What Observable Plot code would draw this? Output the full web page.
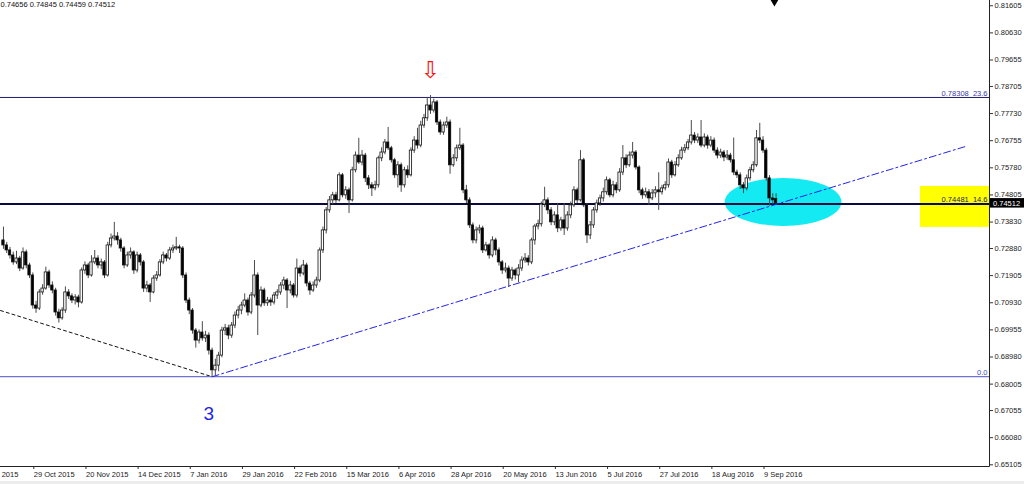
<!DOCTYPE html>
<html><head><meta charset="utf-8">
<script src="https://cdn.jsdelivr.net/npm/d3@7"></script>
<script src="https://cdn.jsdelivr.net/npm/@observablehq/plot@0.6"></script>
<style>
html,body{margin:0;padding:0;background:#fff;}
#chart svg{display:block;}
</style></head><body><div id="chart"></div>
<script>
// Daily candles, first bar ~15 Oct 2015, last bar ~15 Sep 2016 (bar index 0..237)
const opens = [
.7317,.7299,.7281,.7263,.7238,.7252,.7216,.7274,.7227,.7191,
.7083,.7072,.7130,.7144,.7202,.7155,.7137,.7058,.7037,.7065,
.7130,.7116,.7101,.7112,.7094,.7209,.7227,.7191,.7238,.7252,
.7227,.7238,.7191,.7299,.7324,.7331,.7317,.7288,.7227,.7263,
.7274,.7209,.7263,.7238,.7144,.7155,.7130,.7180,.7191,.7238,
.7263,.7252,.7281,.7288,.7292,.7288,.7191,.7101,.7065,.6993,
.6957,.6986,.6965,.6975,.6921,.6850,.6867,.6903,.6993,.7001,
.6975,.7011,.7047,.7065,.7083,.7101,.7058,.7119,.7191,.7083,
.7137,.7091,.7101,.7094,.7119,.7130,.7155,.7173,.7137,.7155,
.7119,.7216,.7198,.7227,.7162,.7137,.7155,.7173,.7281,.7353,
.7425,.7461,.7479,.7461,.7551,.7479,.7497,.7461,.7569,.7622,
.7597,.7622,.7540,.7515,.7504,.7515,.7612,.7633,.7669,.7648,
.7605,.7551,.7587,.7515,.7569,.7551,.7640,.7676,.7658,.7730,
.7756,.7802,.7784,.7813,.7741,.7705,.7730,.7741,.7587,.7612,
.7648,.7658,.7497,.7461,.7371,.7317,.7353,.7360,.7281,.7299,
.7263,.7317,.7281,.7238,.7209,.7216,.7180,.7209,.7191,.7216,
.7245,.7252,.7238,.7317,.7367,.7375,.7446,.7461,.7425,.7382,
.7407,.7360,.7389,.7360,.7407,.7443,.7497,.7461,.7605,.7443,
.7335,.7371,.7425,.7450,.7468,.7490,.7533,.7479,.7515,.7497,
.7561,.7612,.7587,.7622,.7633,.7579,.7497,.7479,.7490,.7468,
.7486,.7497,.7490,.7504,.7515,.7597,.7551,.7587,.7612,.7640,
.7648,.7669,.7694,.7676,.7687,.7658,.7687,.7658,.7676,.7640,
.7622,.7633,.7615,.7622,.7605,.7561,.7551,.7515,.7504,.7540,
.7569,.7587,.7684,.7676,.7640,.7540,.7468,.74656];
const highs = [
.7365,.7310,.7292,.7275,.7278,.7260,.7290,.7282,.7235,.7200,
.7098,.7140,.7158,.7221,.7210,.7168,.7145,.7070,.7075,.7150,
.7140,.7125,.7122,.7120,.7218,.7240,.7235,.7262,.7281,.7262,
.7250,.7245,.7310,.7340,.7382,.7345,.7325,.7295,.7275,.7290,
.7280,.7275,.7270,.7245,.7170,.7162,.7190,.7205,.7248,.7275,
.7270,.7292,.7300,.7328,.7300,.7295,.7200,.7110,.7072,.7000,
.6995,.7025,.6990,.6985,.6930,.6890,.6915,.7005,.7015,.7012,
.7022,.7060,.7080,.7095,.7125,.7110,.7130,.7245,.7200,.7150,
.7145,.7112,.7110,.7130,.7140,.7165,.7185,.7180,.7170,.7162,
.7250,.7225,.7245,.7235,.7170,.7168,.7185,.7290,.7365,.7435,
.7475,.7490,.7490,.7560,.7558,.7510,.7505,.7580,.7635,.7684,
.7640,.7630,.7550,.7525,.7530,.7620,.7650,.7680,.7723,.7655,
.7612,.7600,.7595,.7580,.7585,.7650,.7690,.7720,.7745,.7770,
.7831,.7838,.7825,.7820,.7750,.7742,.7760,.7750,.7625,.7660,
.7720,.7665,.7515,.7470,.7380,.7365,.7372,.7368,.7310,.7305,
.7330,.7325,.7290,.7245,.7235,.7225,.7220,.7215,.7230,.7258,
.7270,.7262,.7325,.7375,.7390,.7455,.7508,.7470,.7435,.7420,
.7450,.7400,.7450,.7420,.7455,.7510,.7505,.7640,.7612,.7450,
.7385,.7435,.7462,.7480,.7505,.7545,.7540,.7530,.7525,.7575,
.7658,.7625,.7635,.7669,.7640,.7585,.7505,.7505,.7500,.7500,
.7510,.7560,.7515,.7528,.7610,.7605,.7600,.7625,.7652,.7662,
.7680,.7748,.7705,.7700,.7748,.7700,.7695,.7690,.7685,.7650,
.7645,.7640,.7640,.7630,.7685,.7570,.7560,.7525,.7552,.7580,
.7600,.7712,.7738,.7690,.7648,.7550,.7485,.74845];
const lows = [
.7285,.7270,.7250,.7228,.7230,.7205,.7210,.7215,.7180,.7070,
.7055,.7065,.7120,.7138,.7145,.7125,.7045,.7020,.7030,.7055,
.7105,.7090,.7085,.7075,.7088,.7195,.7180,.7185,.7230,.7215,
.7212,.7180,.7185,.7290,.7315,.7300,.7275,.7215,.7220,.7250,
.7195,.7200,.7225,.7130,.7130,.7094,.7125,.7170,.7185,.7230,
.7240,.7245,.7270,.7280,.7270,.7180,.7090,.7050,.6980,.6930,
.6945,.6955,.6950,.6905,.6827,.6830,.6845,.6895,.6975,.6960,
.6965,.7000,.7035,.7050,.7075,.7045,.7050,.7110,.6975,.7075,
.7080,.7080,.7080,.7085,.7105,.7120,.7140,.7072,.7125,.7110,
.7110,.7185,.7190,.7150,.7120,.7130,.7145,.7165,.7270,.7340,
.7415,.7445,.7450,.7455,.7470,.7465,.7414,.7455,.7560,.7590,
.7585,.7525,.7500,.7475,.7495,.7505,.7600,.7625,.7640,.7595,
.7540,.7505,.7490,.7505,.7540,.7545,.7630,.7645,.7650,.7720,
.7745,.7770,.7775,.7730,.7695,.7695,.7720,.7555,.7580,.7600,
.7640,.7485,.7450,.7360,.7305,.7305,.7340,.7270,.7275,.7250,
.7255,.7262,.7225,.7195,.7200,.7148,.7170,.7175,.7165,.7205,
.7235,.7225,.7230,.7300,.7355,.7365,.7435,.7410,.7370,.7370,
.7345,.7350,.7335,.7350,.7395,.7435,.7450,.7455,.7435,.7306,
.7320,.7360,.7415,.7440,.7455,.7480,.7470,.7470,.7485,.7490,
.7550,.7575,.7580,.7610,.7570,.7485,.7465,.7470,.7443,.7460,
.7470,.7425,.7480,.7495,.7505,.7540,.7545,.7580,.7605,.7630,
.7640,.7660,.7665,.7665,.7650,.7650,.7645,.7650,.7630,.7610,
.7612,.7600,.7605,.7595,.7550,.7540,.7500,.7485,.7495,.7530,
.7560,.7580,.7665,.7630,.7530,.7440,.7446,.74459];
const closes = [
.7299,.7281,.7263,.7238,.7252,.7216,.7274,.7227,.7191,.7083,
.7072,.7130,.7144,.7202,.7155,.7137,.7058,.7037,.7065,.7130,
.7116,.7101,.7112,.7094,.7209,.7227,.7191,.7238,.7252,.7227,
.7238,.7191,.7299,.7324,.7331,.7317,.7288,.7227,.7263,.7274,
.7209,.7263,.7238,.7144,.7155,.7130,.7180,.7191,.7238,.7263,
.7252,.7281,.7288,.7292,.7288,.7191,.7101,.7065,.6993,.6957,
.6986,.6965,.6975,.6921,.6850,.6867,.6903,.6993,.7001,.6975,
.7011,.7047,.7065,.7083,.7101,.7058,.7119,.7191,.7083,.7137,
.7091,.7101,.7094,.7119,.7130,.7155,.7173,.7137,.7155,.7119,
.7216,.7198,.7227,.7162,.7137,.7155,.7173,.7281,.7353,.7425,
.7461,.7479,.7461,.7551,.7479,.7497,.7461,.7569,.7622,.7597,
.7622,.7540,.7515,.7504,.7515,.7612,.7633,.7669,.7648,.7605,
.7551,.7587,.7515,.7569,.7551,.7640,.7676,.7658,.7730,.7756,
.7802,.7784,.7813,.7741,.7705,.7730,.7741,.7587,.7612,.7648,
.7658,.7497,.7461,.7371,.7317,.7353,.7360,.7281,.7299,.7263,
.7317,.7281,.7238,.7209,.7216,.7180,.7209,.7191,.7216,.7245,
.7252,.7238,.7317,.7367,.7375,.7446,.7461,.7425,.7382,.7407,
.7360,.7389,.7360,.7407,.7443,.7497,.7461,.7605,.7443,.7335,
.7371,.7425,.7450,.7468,.7490,.7533,.7479,.7515,.7497,.7561,
.7612,.7587,.7622,.7633,.7579,.7497,.7479,.7490,.7468,.7486,
.7497,.7490,.7504,.7515,.7597,.7551,.7587,.7612,.7640,.7648,
.7669,.7694,.7676,.7687,.7658,.7687,.7658,.7676,.7640,.7622,
.7633,.7615,.7622,.7605,.7561,.7551,.7515,.7504,.7540,.7569,
.7587,.7684,.7676,.7640,.7540,.7468,.7461,.74512];

const headerText = "0.74656 0.74845 0.74459 0.74512";
const yTicks = [0.81605,0.80630,0.79655,0.78705,0.77730,0.76755,0.75780,0.74805,0.73830,
                0.72880,0.71905,0.70930,0.69955,0.68980,0.68005,0.67055,0.66080,0.65105];
const xTickLabels = ["7 Oct 2015","29 Oct 2015","20 Nov 2015","14 Dec 2015","7 Jan 2016","29 Jan 2016",
  "22 Feb 2016","15 Mar 2016","6 Apr 2016","28 Apr 2016","20 May 2016","13 Jun 2016","5 Jul 2016",
  "27 Jul 2016","18 Aug 2016","9 Sep 2016"];
const firstTickBar = -7, tickEvery = 16;

const fibLevels = [0.78308, 0.74481, 0.68273];
const fibLabels = ["0.78308  23.6", "0.74481  14.6", "0.0"];
const zone = {barStart: 281.3, barEnd: 302.47, top: 0.7511, bottom: 0.7364};
const trendUp = [{bar: 64, price: 0.6827}, {bar: 295.2, price: 0.7655}];
const trendDown = [{bar: -0.9, price: 0.7065}, {bar: 64, price: 0.6827}];
const ellipseSpec = {bar: 239.3, price: 0.74535, halfBars: 17.9, halfPrice: 0.00863};
const arrowSpec = {bar: 131, price: 0.7928};
const waveSpec = {bar: 63, price: 0.6695, text: "3"};
const sellSpec = {bar: 236.5, price: 0.8177};

const bars = closes.map((c, i) => ({i, o: opens[i], h: highs[i], l: lows[i], c}));
const xTickBars = xTickLabels.map((_, k) => firstTickBar + k * tickEvery);
const NS = "http://www.w3.org/2000/svg";
const FONT = "'Liberation Sans', Arial, sans-serif";

function ellipseMark(index, scales) {
  const e = document.createElementNS(NS, "ellipse");
  const cx = scales.x(ellipseSpec.bar), cy = scales.y(ellipseSpec.price);
  e.setAttribute("cx", cx); e.setAttribute("cy", cy);
  e.setAttribute("rx", Math.abs(scales.x(ellipseSpec.bar + ellipseSpec.halfBars) - cx));
  e.setAttribute("ry", Math.abs(cy - scales.y(ellipseSpec.price + ellipseSpec.halfPrice)));
  e.setAttribute("fill", "#14eaf2");
  return e;
}
function frameMark(index, scales, values, dims) {
  const g = document.createElementNS(NS, "g");
  const xr = dims.width - dims.marginRight + 0.5, yb = dims.height - dims.marginBottom + 0.5;
  const add = (tag, attrs) => { const n = document.createElementNS(NS, tag); for (const k in attrs) n.setAttribute(k, attrs[k]); g.appendChild(n); };
  add("line", {x1: xr, x2: xr, y1: 0, y2: yb, stroke: "#222", "stroke-width": 1});
  add("line", {x1: 0, x2: xr, y1: yb, y2: yb, stroke: "#222", "stroke-width": 1});
  add("rect", {x: 0, y: dims.height - 3, width: dims.width, height: 3, fill: "#ececec"});
  return g;
}
function lastPriceMark(index, scales, values, dims) {
  const g = document.createElementNS(NS, "g");
  const last = closes[closes.length - 1];
  const y = scales.y(last), x0 = dims.width - dims.marginRight;
  const r = document.createElementNS(NS, "rect");
  r.setAttribute("x", x0 + 1); r.setAttribute("y", y - 4.5); r.setAttribute("width", dims.marginRight - 1);
  r.setAttribute("height", 9.5); r.setAttribute("fill", "#000");
  const t = document.createElementNS(NS, "text");
  t.setAttribute("x", x0 + 4); t.setAttribute("y", y + 3); t.setAttribute("fill", "#fff");
  t.setAttribute("text-anchor", "start");
  t.setAttribute("font-size", 7.5); t.setAttribute("font-family", FONT);
  t.textContent = last.toFixed(5);
  g.appendChild(r); g.appendChild(t);
  return g;
}

const fibStyles = [
  {stroke: "#1e1e78", width: 1, fill: "#3a3aa4", dy: -3.5},
  {stroke: "#0a0a40", width: 2, fill: "#22226a", dy: -4},
  {stroke: "#7272d2", width: 1.2, fill: "#4a4ac0", dy: -4.5}
];

const chart = Plot.plot({
  width: 1024, height: 484,
  marginLeft: 0, marginRight: 35, marginTop: 0, marginBottom: 18,
  style: {fontFamily: FONT, fontSize: "7.5px", background: "#fff", color: "#111"},
  x: {type: "linear", domain: [-0.908, 302.47]},
  y: {type: "linear", domain: [0.65044, 0.81794]},
  marks: [
    Plot.rect([zone], {x1: "barStart", x2: "barEnd", y1: "bottom", y2: "top", fill: "#ffff00"}),
    ellipseMark,
    Plot.line(trendDown, {x: "bar", y: "price", stroke: "#111", strokeWidth: 1, strokeDasharray: "3,3"}),
    ...fibLevels.map((lv, k) => Plot.ruleY([lv], {stroke: fibStyles[k].stroke, strokeWidth: fibStyles[k].width})),
    Plot.ruleX(bars, {x: "i", y1: "l", y2: "h", stroke: "#4a4a4a", strokeWidth: 1}),
    Plot.rect(bars, {x1: d => d.i - 0.36, x2: d => d.i + 0.36, y1: "o", y2: "c",
      fill: d => d.c >= d.o ? "#ffffff" : "#000000", stroke: "#111", strokeWidth: 0.8}),
    Plot.line(trendUp, {x: "bar", y: "price", stroke: "#2323e6", strokeWidth: 1, strokeDasharray: "7,3,2,3"}),
    ...fibLevels.map((lv, k) => Plot.text([lv], {y: d => d, frameAnchor: "right", text: () => fibLabels[k],
      textAnchor: "end", dx: -2, dy: fibStyles[k].dy, fill: fibStyles[k].fill, fontSize: 7.5})),
    Plot.text([arrowSpec], {x: "bar", y: "price", text: () => "⇩", fill: "#ff1010", fontSize: 23,
      fontFamily: "DejaVu Sans"}),
    Plot.text([waveSpec], {x: "bar", y: "price", text: "text", fill: "#1f1fe8", fontSize: 19}),
    Plot.dot([sellSpec], {x: "bar", y: "price", symbol: "triangle", rotate: 180, r: 3.5, fill: "#000"}),
    Plot.text([headerText], {frameAnchor: "top-left", text: d => d, textAnchor: "start", lineAnchor: "top",
      dy: 1, fontSize: 7.5, fill: "#111"}),
    Plot.axisY({anchor: "right", ticks: yTicks, tickFormat: d => d.toFixed(5), tickSize: 3, tickPadding: 2,
      fontSize: 7.5, stroke: "#333", fill: "#222"}),
    Plot.axisX({anchor: "bottom", ticks: xTickBars,
      tickFormat: d => xTickLabels[Math.round((d - firstTickBar) / tickEvery)],
      tickSize: 3, tickPadding: 2, textAnchor: "start", dx: 1, fontSize: 7.5, stroke: "#333", fill: "#222"}),
    frameMark,
    lastPriceMark
  ]
});
document.getElementById("chart").appendChild(chart);
</script>
</body></html>
